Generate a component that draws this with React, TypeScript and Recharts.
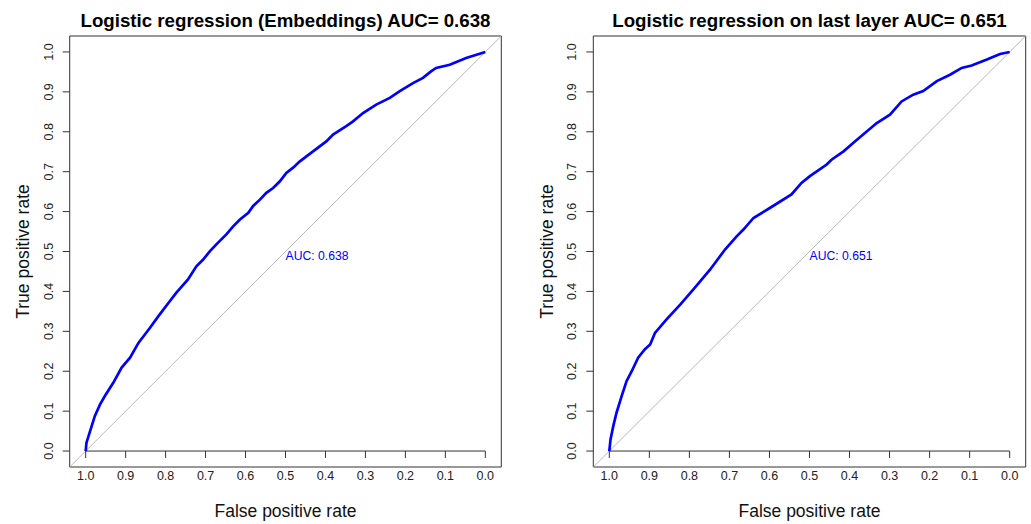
import React from "react";
import {
  LineChart,
  Line,
  XAxis,
  YAxis,
  ReferenceLine,
  ReferenceArea,
  ReferenceDot,
} from "recharts";

// tick values
const xTicks = [1, 0.9, 0.8, 0.7, 0.6, 0.5, 0.4, 0.3, 0.2, 0.1, 0];
const yTicks = [0, 0.1, 0.2, 0.3, 0.4, 0.5, 0.6, 0.7, 0.8, 0.9, 1];

// left panel: embeddings model
const embSpec = [
  1, 0.998, 0.989, 0.977, 0.964, 0.952, 0.931, 0.91, 0.889, 0.868, 0.839, 0.818,
  0.793, 0.773, 0.744, 0.723, 0.706, 0.689, 0.673, 0.648, 0.631, 0.614, 0.593,
  0.581, 0.564, 0.548, 0.531, 0.514, 0.498, 0.481, 0.464, 0.431, 0.398, 0.381,
  0.348, 0.331, 0.306, 0.273, 0.239, 0.214, 0.181, 0.156, 0.135, 0.123, 0.089,
  0.048, 0,
];
const embSens = [
  0, 0.021, 0.05, 0.088, 0.117, 0.138, 0.171, 0.209, 0.234, 0.271, 0.309, 0.338,
  0.371, 0.397, 0.43, 0.463, 0.48, 0.501, 0.518, 0.543, 0.563, 0.58, 0.597,
  0.614, 0.63, 0.647, 0.659, 0.676, 0.697, 0.71, 0.726, 0.751, 0.776, 0.793,
  0.814, 0.826, 0.847, 0.868, 0.885, 0.902, 0.922, 0.935, 0.952, 0.96, 0.968,
  0.985, 1,
];

// right panel: last layer model
const lastSpec = [
  1, 0.997, 0.99, 0.982, 0.969, 0.957, 0.944, 0.928, 0.911, 0.898, 0.886, 0.857,
  0.823, 0.79, 0.748, 0.711, 0.682, 0.665, 0.64, 0.599, 0.545, 0.52, 0.499,
  0.457, 0.445, 0.415, 0.391, 0.366, 0.332, 0.299, 0.27, 0.241, 0.216, 0.182,
  0.149, 0.12, 0.095, 0.057, 0.024, 0,
];
const lastSens = [
  0, 0.029, 0.063, 0.096, 0.138, 0.175, 0.2, 0.234, 0.255, 0.267, 0.296, 0.33,
  0.367, 0.405, 0.455, 0.505, 0.538, 0.555, 0.584, 0.609, 0.643, 0.672, 0.689,
  0.718, 0.73, 0.751, 0.772, 0.793, 0.822, 0.843, 0.876, 0.893, 0.902, 0.927,
  0.943, 0.96, 0.966, 0.981, 0.995, 1,
];

const LO = -0.04;
const HI = 1.04;
const FONT = '"Liberation Sans", Arial, Helvetica, sans-serif';
const INK = "#333";
const H = 524;
const TOP = 36;
const BOTTOM = 467;
const Y_W = 50;
const X_H = 30;
const PLOT_H = BOTTOM - TOP;
const ZERO_OFF = (PLOT_H * (0 - LO)) / (HI - LO);

const fmt = (v: number) => v.toFixed(1);

function XTick(props: any) {
  const { x, y, payload } = props;
  const y0 = y - ZERO_OFF;
  return (
    <g>
      <line x1={x} x2={x} y1={y0} y2={y0 + 7} stroke={INK} />
      <text x={x} y={y + 13} textAnchor="middle" fontSize={12.5} fill="#222" fontFamily={FONT}>
        {fmt(payload.value)}
      </text>
    </g>
  );
}

function YTick(props: any) {
  const { x, y, payload } = props;
  const tx = x - 10;
  return (
    <text
      x={tx}
      y={y}
      transform={`rotate(-90 ${tx} ${y})`}
      textAnchor="middle"
      fontSize={12.5}
      fill="#222"
      fontFamily={FONT}
    >
      {fmt(payload.value)}
    </text>
  );
}

type PanelProps = {
  left: number;
  width: number;
  plotLeft: number;
  plotRight: number;
  title: string;
  auc: string;
  spec: number[];
  sens: number[];
};

function Panel({ left, width, plotLeft, plotRight, title, auc, spec, sens }: PanelProps) {
  const data = spec.map((s, i) => ({ spec: s, sens: sens[i] }));
  const pl = plotLeft - left;
  const pr = plotRight - left;
  const cx = (pl + pr) / 2;
  const cy = (TOP + BOTTOM) / 2;
  const yLabX = pl - 40.7;

  return (
    <div style={{ position: "absolute", left, top: 0, width, height: H }}>
      <svg width={width} height={H} style={{ position: "absolute", left: 0, top: 0 }}>
        <text x={cx} y={27} textAnchor="middle" fontSize={18.7} fontWeight="bold" fill="#000" fontFamily={FONT}>
          {title}
        </text>
      </svg>
      <div style={{ position: "absolute", left: 0, top: 0 }}>
        <LineChart
          width={width}
          height={H}
          data={data}
          margin={{ top: TOP, right: width - pr, bottom: H - BOTTOM - X_H, left: pl - Y_W }}
        >
          <ReferenceArea x1={LO} x2={HI} y1={LO} y2={HI} fill="none" stroke={INK} strokeWidth={1} />
          <ReferenceLine
            segment={[
              { x: LO, y: HI },
              { x: HI, y: LO },
            ]}
            stroke="#b8b8b8"
            strokeWidth={1}
          />
          <ReferenceLine
            segment={[
              { x: xTicks[0], y: 0 },
              { x: xTicks[xTicks.length - 1], y: 0 },
            ]}
            stroke={INK}
            strokeWidth={1}
          />
          <XAxis
            dataKey="spec"
            type="number"
            domain={[LO, HI]}
            reversed
            ticks={xTicks}
            allowDataOverflow
            axisLine={false}
            tickLine={false}
            tickSize={0}
            tickMargin={0}
            height={X_H}
            interval={0}
            tick={<XTick />}
            label={{
              content: () => (
                <text x={cx} y={BOTTOM + 50} textAnchor="middle" fontSize={17.5} fill="#111" fontFamily={FONT}>
                  False positive rate
                </text>
              ),
            }}
          />
          <YAxis
            type="number"
            domain={[LO, HI]}
            ticks={yTicks}
            allowDataOverflow
            axisLine={false}
            tickLine={{ stroke: INK }}
            tickSize={7}
            tickMargin={0}
            width={Y_W}
            interval={0}
            tick={<YTick />}
            label={{
              content: () => (
                <text
                  x={yLabX}
                  y={cy}
                  transform={`rotate(-90 ${yLabX} ${cy})`}
                  textAnchor="middle"
                  fontSize={17.5}
                  fill="#111"
                  fontFamily={FONT}
                >
                  True positive rate
                </text>
              ),
            }}
          />
          <Line
            type="linear"
            dataKey="sens"
            stroke="#0000ff"
            strokeWidth={2.7}
            dot={false}
            activeDot={false}
            isAnimationActive={false}
          />
          <ReferenceDot
            x={0.5}
            y={0.5}
            r={0}
            shape={(p: any) => (
              <text x={p.cx} y={p.cy} dy="0.72em" fontSize={12.2} fill="#0000ff" fontFamily={FONT}>
                {auc}
              </text>
            )}
          />
        </LineChart>
      </div>
    </div>
  );
}

export default function App() {
  return (
    <div style={{ position: "absolute", left: 0, top: 0, width: 1031, height: H, background: "#fff" }}>
      <Panel
        left={0}
        width={515}
        plotLeft={69.7}
        plotRight={501.3}
        title="Logistic regression (Embeddings) AUC= 0.638"
        auc="AUC: 0.638"
        spec={embSpec}
        sens={embSens}
      />
      <Panel
        left={515}
        width={516}
        plotLeft={593.3}
        plotRight={1025.7}
        title="Logistic regression on last layer AUC= 0.651"
        auc="AUC: 0.651"
        spec={lastSpec}
        sens={lastSens}
      />
    </div>
  );
}
